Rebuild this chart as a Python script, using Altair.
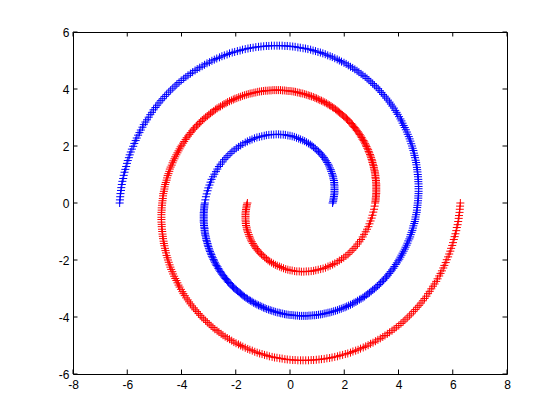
import altair as alt
import pandas as pd

# Blue spiral (inner end near (1.57, 0), outer end at (-6.28, 0))
BLUE_X = [
    1.57, 1.59, 1.60, 1.61, 1.62, 1.63, 1.64, 1.64, 1.64, 1.64, 1.64, 1.63, 1.63, 1.62, 1.60,
    1.59, 1.57, 1.55, 1.52, 1.50, 1.47, 1.44, 1.41, 1.37, 1.33, 1.29, 1.25, 1.20, 1.15, 1.10,
    1.05, 0.99, 0.93, 0.87, 0.81, 0.75, 0.68, 0.61, 0.54, 0.47, 0.39, 0.32, 0.24, 0.16, 0.08,
    0.00, -0.08, -0.17, -0.25, -0.34, -0.42, -0.51, -0.60, -0.69, -0.78, -0.87, -0.95, -1.04, -1.13, -1.22,
    -1.31, -1.40, -1.48, -1.57, -1.65, -1.74, -1.82, -1.90, -1.98, -2.06, -2.14, -2.21, -2.29, -2.36, -2.43,
    -2.49, -2.56, -2.62, -2.68, -2.73, -2.79, -2.84, -2.89, -2.93, -2.97, -3.01, -3.04, -3.07, -3.10, -3.12,
    -3.14, -3.16, -3.17, -3.18, -3.18, -3.18, -3.18, -3.17, -3.15, -3.14, -3.12, -3.09, -3.06, -3.03, -2.99,
    -2.95, -2.90, -2.85, -2.80, -2.74, -2.67, -2.61, -2.54, -2.46, -2.38, -2.30, -2.21, -2.12, -2.03, -1.93,
    -1.83, -1.73, -1.62, -1.51, -1.40, -1.28, -1.16, -1.04, -0.92, -0.79, -0.67, -0.54, -0.40, -0.27, -0.14,
    0.00, 0.14, 0.28, 0.42, 0.56, 0.70, 0.84, 0.98, 1.12, 1.26, 1.40, 1.54, 1.68, 1.82, 1.96,
    2.09, 2.23, 2.36, 2.49, 2.62, 2.75, 2.87, 2.99, 3.11, 3.23, 3.34, 3.45, 3.56, 3.66, 3.76,
    3.85, 3.94, 4.03, 4.11, 4.19, 4.26, 4.33, 4.40, 4.45, 4.51, 4.55, 4.60, 4.63, 4.67, 4.69,
    4.71, 4.73, 4.74, 4.74, 4.74, 4.73, 4.71, 4.69, 4.66, 4.63, 4.59, 4.55, 4.50, 4.44, 4.38,
    4.31, 4.23, 4.15, 4.07, 3.97, 3.88, 3.77, 3.67, 3.55, 3.43, 3.31, 3.18, 3.05, 2.91, 2.77,
    2.62, 2.47, 2.31, 2.15, 1.99, 1.82, 1.65, 1.48, 1.30, 1.12, 0.94, 0.76, 0.57, 0.38, 0.19,
    0.00, -0.19, -0.39, -0.58, -0.78, -0.97, -1.16, -1.36, -1.55, -1.75, -1.94, -2.13, -2.32, -2.51, -2.70,
    -2.88, -3.06, -3.24, -3.42, -3.59, -3.76, -3.92, -4.09, -4.24, -4.40, -4.55, -4.69, -4.83, -4.96, -5.09,
    -5.21, -5.33, -5.44, -5.55, -5.65, -5.74, -5.83, -5.91, -5.98, -6.04, -6.10, -6.15, -6.20, -6.23, -6.26,
    -6.28,
    # denser points along the outer turns
    -3.15, -3.16, -3.17, -3.18, -3.18, -3.18, -3.17, -3.16, -3.15, -3.13, -3.10, -3.08, -3.04, -3.01, -2.97,
    -2.92, -2.88, -2.82, -2.77, -2.71, -2.64, -2.57, -2.50, -2.42, -2.34, -2.26, -2.17, -2.08, -1.98, -1.88,
    -1.78, -1.68, -1.57, -1.46, -1.34, -1.22, -1.10, -0.98, -0.86, -0.73, -0.60, -0.47, -0.34, -0.20, -0.07,
    0.07, 0.21, 0.35, 0.49, 0.63, 0.77, 0.91, 1.05, 1.19, 1.33, 1.47, 1.61, 1.75, 1.89, 2.03,
    2.16, 2.30, 2.43, 2.56, 2.69, 2.81, 2.93, 3.05, 3.17, 3.29, 3.40, 3.51, 3.61, 3.71, 3.81,
    3.90, 3.99, 4.07, 4.15, 4.23, 4.30, 4.36, 4.43, 4.48, 4.53, 4.58, 4.62, 4.65, 4.68, 4.70,
    4.72, 4.73, 4.74, 4.74, 4.73, 4.72, 4.70, 4.68, 4.65, 4.61, 4.57, 4.52, 4.47, 4.41, 4.34,
    4.27, 4.19, 4.11, 4.02, 3.93, 3.83, 3.72, 3.61, 3.49, 3.37, 3.25, 3.11, 2.98, 2.84, 2.69,
    2.54, 2.39, 2.23, 2.07, 1.90, 1.74, 1.56, 1.39, 1.21, 1.03, 0.85, 0.66, 0.48, 0.29, 0.10,
    -0.10, -0.29, -0.48, -0.68, -0.87, -1.07, -1.26, -1.46, -1.65, -1.84, -2.04, -2.23, -2.42, -2.60, -2.79,
    -2.97, -3.15, -3.33, -3.50, -3.67, -3.84, -4.01, -4.17, -4.32, -4.47, -4.62, -4.76, -4.90, -5.03, -5.15,
    -5.27, -5.39, -5.50, -5.60, -5.69, -5.78, -5.87, -5.94, -6.01, -6.07, -6.13, -6.18, -6.22, -6.25, -6.27,
]
BLUE_Y = [
    0.00, 0.06, 0.11, 0.17, 0.23, 0.29, 0.35, 0.41, 0.47, 0.53, 0.60, 0.66, 0.72, 0.79, 0.85,
    0.92, 0.98, 1.04, 1.11, 1.17, 1.23, 1.30, 1.36, 1.42, 1.48, 1.54, 1.60, 1.65, 1.71, 1.76,
    1.81, 1.86, 1.91, 1.96, 2.01, 2.05, 2.09, 2.13, 2.17, 2.20, 2.23, 2.26, 2.29, 2.32, 2.34,
    2.36, 2.37, 2.39, 2.40, 2.40, 2.41, 2.41, 2.40, 2.40, 2.39, 2.38, 2.36, 2.34, 2.32, 2.30,
    2.27, 2.23, 2.20, 2.16, 2.12, 2.07, 2.02, 1.97, 1.92, 1.86, 1.80, 1.73, 1.66, 1.59, 1.52,
    1.44, 1.36, 1.28, 1.19, 1.10, 1.01, 0.92, 0.83, 0.73, 0.63, 0.53, 0.43, 0.32, 0.22, 0.11,
    0.00, -0.11, -0.22, -0.33, -0.45, -0.56, -0.67, -0.79, -0.90, -1.02, -1.13, -1.25, -1.36, -1.48, -1.59,
    -1.70, -1.81, -1.92, -2.03, -2.14, -2.24, -2.35, -2.45, -2.55, -2.65, -2.74, -2.83, -2.92, -3.01, -3.09,
    -3.17, -3.25, -3.33, -3.40, -3.46, -3.53, -3.59, -3.64, -3.69, -3.74, -3.78, -3.82, -3.85, -3.88, -3.91,
    -3.93, -3.94, -3.95, -3.96, -3.96, -3.95, -3.94, -3.93, -3.91, -3.88, -3.85, -3.82, -3.78, -3.73, -3.68,
    -3.63, -3.57, -3.50, -3.43, -3.36, -3.28, -3.19, -3.10, -3.01, -2.91, -2.80, -2.70, -2.59, -2.47, -2.35,
    -2.23, -2.10, -1.97, -1.83, -1.69, -1.55, -1.41, -1.26, -1.11, -0.96, -0.80, -0.65, -0.49, -0.33, -0.16,
    0.00, 0.17, 0.33, 0.50, 0.67, 0.83, 1.00, 1.17, 1.34, 1.50, 1.67, 1.84, 2.00, 2.17, 2.33,
    2.49, 2.65, 2.80, 2.95, 3.11, 3.25, 3.40, 3.54, 3.68, 3.81, 3.94, 4.07, 4.19, 4.31, 4.43,
    4.53, 4.64, 4.74, 4.83, 4.92, 5.00, 5.08, 5.15, 5.22, 5.28, 5.33, 5.38, 5.42, 5.45, 5.48,
    5.50, 5.51, 5.52, 5.52, 5.51, 5.50, 5.48, 5.45, 5.42, 5.38, 5.33, 5.28, 5.21, 5.15, 5.07,
    4.99, 4.90, 4.80, 4.70, 4.59, 4.48, 4.36, 4.23, 4.10, 3.96, 3.81, 3.66, 3.51, 3.35, 3.18,
    3.01, 2.84, 2.66, 2.47, 2.28, 2.09, 1.89, 1.69, 1.49, 1.28, 1.08, 0.86, 0.65, 0.44, 0.22,
    0.00,
    # denser points along the outer turns
    -0.06, -0.17, -0.28, -0.39, -0.50, -0.62, -0.73, -0.85, -0.96, -1.08, -1.19, -1.31, -1.42, -1.53, -1.65,
    -1.76, -1.87, -1.98, -2.08, -2.19, -2.30, -2.40, -2.50, -2.60, -2.69, -2.79, -2.88, -2.97, -3.05, -3.13,
    -3.21, -3.29, -3.36, -3.43, -3.50, -3.56, -3.61, -3.67, -3.72, -3.76, -3.80, -3.84, -3.87, -3.90, -3.92,
    -3.93, -3.95, -3.96, -3.96, -3.96, -3.95, -3.94, -3.92, -3.90, -3.87, -3.84, -3.80, -3.76, -3.71, -3.66,
    -3.60, -3.54, -3.47, -3.39, -3.32, -3.23, -3.15, -3.05, -2.96, -2.86, -2.75, -2.64, -2.53, -2.41, -2.29,
    -2.16, -2.03, -1.90, -1.76, -1.62, -1.48, -1.33, -1.19, -1.03, -0.88, -0.72, -0.57, -0.41, -0.25, -0.08,
    0.08, 0.25, 0.41, 0.58, 0.75, 0.92, 1.09, 1.25, 1.42, 1.59, 1.75, 1.92, 2.08, 2.25, 2.41,
    2.57, 2.72, 2.88, 3.03, 3.18, 3.33, 3.47, 3.61, 3.75, 3.88, 4.01, 4.13, 4.25, 4.37, 4.48,
    4.59, 4.69, 4.78, 4.88, 4.96, 5.04, 5.12, 5.18, 5.25, 5.30, 5.35, 5.40, 5.43, 5.46, 5.49,
    5.51, 5.52, 5.52, 5.52, 5.51, 5.49, 5.47, 5.44, 5.40, 5.35, 5.30, 5.25, 5.18, 5.11, 5.03,
    4.94, 4.85, 4.75, 4.65, 4.54, 4.42, 4.30, 4.17, 4.03, 3.89, 3.74, 3.59, 3.43, 3.27, 3.10,
    2.92, 2.75, 2.56, 2.38, 2.19, 1.99, 1.79, 1.59, 1.39, 1.18, 0.97, 0.76, 0.54, 0.33, 0.11,
]

# Red spiral (inner end near (-1.57, 0), outer end at (6.28, 0))
RED_X = [
    -1.57, -1.59, -1.60, -1.61, -1.62, -1.63, -1.64, -1.64, -1.64, -1.64, -1.64, -1.63, -1.63, -1.62, -1.60,
    -1.59, -1.57, -1.55, -1.52, -1.50, -1.47, -1.44, -1.41, -1.37, -1.33, -1.29, -1.25, -1.20, -1.15, -1.10,
    -1.05, -0.99, -0.93, -0.87, -0.81, -0.75, -0.68, -0.61, -0.54, -0.47, -0.39, -0.32, -0.24, -0.16, -0.08,
    0.00, 0.08, 0.17, 0.25, 0.34, 0.42, 0.51, 0.60, 0.69, 0.78, 0.87, 0.95, 1.04, 1.13, 1.22,
    1.31, 1.40, 1.48, 1.57, 1.65, 1.74, 1.82, 1.90, 1.98, 2.06, 2.14, 2.21, 2.29, 2.36, 2.43,
    2.49, 2.56, 2.62, 2.68, 2.73, 2.79, 2.84, 2.89, 2.93, 2.97, 3.01, 3.04, 3.07, 3.10, 3.12,
    3.14, 3.16, 3.17, 3.18, 3.18, 3.18, 3.18, 3.17, 3.15, 3.14, 3.12, 3.09, 3.06, 3.03, 2.99,
    2.95, 2.90, 2.85, 2.80, 2.74, 2.67, 2.61, 2.54, 2.46, 2.38, 2.30, 2.21, 2.12, 2.03, 1.93,
    1.83, 1.73, 1.62, 1.51, 1.40, 1.28, 1.16, 1.04, 0.92, 0.79, 0.67, 0.54, 0.40, 0.27, 0.14,
    0.00, -0.14, -0.28, -0.42, -0.56, -0.70, -0.84, -0.98, -1.12, -1.26, -1.40, -1.54, -1.68, -1.82, -1.96,
    -2.09, -2.23, -2.36, -2.49, -2.62, -2.75, -2.87, -2.99, -3.11, -3.23, -3.34, -3.45, -3.56, -3.66, -3.76,
    -3.85, -3.94, -4.03, -4.11, -4.19, -4.26, -4.33, -4.40, -4.45, -4.51, -4.55, -4.60, -4.63, -4.67, -4.69,
    -4.71, -4.73, -4.74, -4.74, -4.74, -4.73, -4.71, -4.69, -4.66, -4.63, -4.59, -4.55, -4.50, -4.44, -4.38,
    -4.31, -4.23, -4.15, -4.07, -3.97, -3.88, -3.77, -3.67, -3.55, -3.43, -3.31, -3.18, -3.05, -2.91, -2.77,
    -2.62, -2.47, -2.31, -2.15, -1.99, -1.82, -1.65, -1.48, -1.30, -1.12, -0.94, -0.76, -0.57, -0.38, -0.19,
    0.00, 0.19, 0.39, 0.58, 0.78, 0.97, 1.16, 1.36, 1.55, 1.75, 1.94, 2.13, 2.32, 2.51, 2.70,
    2.88, 3.06, 3.24, 3.42, 3.59, 3.76, 3.92, 4.09, 4.24, 4.40, 4.55, 4.69, 4.83, 4.96, 5.09,
    5.21, 5.33, 5.44, 5.55, 5.65, 5.74, 5.83, 5.91, 5.98, 6.04, 6.10, 6.15, 6.20, 6.23, 6.26,
    6.28,
    # denser points along the outer turns
    3.15, 3.16, 3.17, 3.18, 3.18, 3.18, 3.17, 3.16, 3.15, 3.13, 3.10, 3.08, 3.04, 3.01, 2.97,
    2.92, 2.88, 2.82, 2.77, 2.71, 2.64, 2.57, 2.50, 2.42, 2.34, 2.26, 2.17, 2.08, 1.98, 1.88,
    1.78, 1.68, 1.57, 1.46, 1.34, 1.22, 1.10, 0.98, 0.86, 0.73, 0.60, 0.47, 0.34, 0.20, 0.07,
    -0.07, -0.21, -0.35, -0.49, -0.63, -0.77, -0.91, -1.05, -1.19, -1.33, -1.47, -1.61, -1.75, -1.89, -2.03,
    -2.16, -2.30, -2.43, -2.56, -2.69, -2.81, -2.93, -3.05, -3.17, -3.29, -3.40, -3.51, -3.61, -3.71, -3.81,
    -3.90, -3.99, -4.07, -4.15, -4.23, -4.30, -4.36, -4.43, -4.48, -4.53, -4.58, -4.62, -4.65, -4.68, -4.70,
    -4.72, -4.73, -4.74, -4.74, -4.73, -4.72, -4.70, -4.68, -4.65, -4.61, -4.57, -4.52, -4.47, -4.41, -4.34,
    -4.27, -4.19, -4.11, -4.02, -3.93, -3.83, -3.72, -3.61, -3.49, -3.37, -3.25, -3.11, -2.98, -2.84, -2.69,
    -2.54, -2.39, -2.23, -2.07, -1.90, -1.74, -1.56, -1.39, -1.21, -1.03, -0.85, -0.66, -0.48, -0.29, -0.10,
    0.10, 0.29, 0.48, 0.68, 0.87, 1.07, 1.26, 1.46, 1.65, 1.84, 2.04, 2.23, 2.42, 2.60, 2.79,
    2.97, 3.15, 3.33, 3.50, 3.67, 3.84, 4.01, 4.17, 4.32, 4.47, 4.62, 4.76, 4.90, 5.03, 5.15,
    5.27, 5.39, 5.50, 5.60, 5.69, 5.78, 5.87, 5.94, 6.01, 6.07, 6.13, 6.18, 6.22, 6.25, 6.27,
]
RED_Y = [
    0.00, -0.06, -0.11, -0.17, -0.23, -0.29, -0.35, -0.41, -0.47, -0.53, -0.60, -0.66, -0.72, -0.79, -0.85,
    -0.92, -0.98, -1.04, -1.11, -1.17, -1.23, -1.30, -1.36, -1.42, -1.48, -1.54, -1.60, -1.65, -1.71, -1.76,
    -1.81, -1.86, -1.91, -1.96, -2.01, -2.05, -2.09, -2.13, -2.17, -2.20, -2.23, -2.26, -2.29, -2.32, -2.34,
    -2.36, -2.37, -2.39, -2.40, -2.40, -2.41, -2.41, -2.40, -2.40, -2.39, -2.38, -2.36, -2.34, -2.32, -2.30,
    -2.27, -2.23, -2.20, -2.16, -2.12, -2.07, -2.02, -1.97, -1.92, -1.86, -1.80, -1.73, -1.66, -1.59, -1.52,
    -1.44, -1.36, -1.28, -1.19, -1.10, -1.01, -0.92, -0.83, -0.73, -0.63, -0.53, -0.43, -0.32, -0.22, -0.11,
    0.00, 0.11, 0.22, 0.33, 0.45, 0.56, 0.67, 0.79, 0.90, 1.02, 1.13, 1.25, 1.36, 1.48, 1.59,
    1.70, 1.81, 1.92, 2.03, 2.14, 2.24, 2.35, 2.45, 2.55, 2.65, 2.74, 2.83, 2.92, 3.01, 3.09,
    3.17, 3.25, 3.33, 3.40, 3.46, 3.53, 3.59, 3.64, 3.69, 3.74, 3.78, 3.82, 3.85, 3.88, 3.91,
    3.93, 3.94, 3.95, 3.96, 3.96, 3.95, 3.94, 3.93, 3.91, 3.88, 3.85, 3.82, 3.78, 3.73, 3.68,
    3.63, 3.57, 3.50, 3.43, 3.36, 3.28, 3.19, 3.10, 3.01, 2.91, 2.80, 2.70, 2.59, 2.47, 2.35,
    2.23, 2.10, 1.97, 1.83, 1.69, 1.55, 1.41, 1.26, 1.11, 0.96, 0.80, 0.65, 0.49, 0.33, 0.16,
    0.00, -0.17, -0.33, -0.50, -0.67, -0.83, -1.00, -1.17, -1.34, -1.50, -1.67, -1.84, -2.00, -2.17, -2.33,
    -2.49, -2.65, -2.80, -2.95, -3.11, -3.25, -3.40, -3.54, -3.68, -3.81, -3.94, -4.07, -4.19, -4.31, -4.43,
    -4.53, -4.64, -4.74, -4.83, -4.92, -5.00, -5.08, -5.15, -5.22, -5.28, -5.33, -5.38, -5.42, -5.45, -5.48,
    -5.50, -5.51, -5.52, -5.52, -5.51, -5.50, -5.48, -5.45, -5.42, -5.38, -5.33, -5.28, -5.21, -5.15, -5.07,
    -4.99, -4.90, -4.80, -4.70, -4.59, -4.48, -4.36, -4.23, -4.10, -3.96, -3.81, -3.66, -3.51, -3.35, -3.18,
    -3.01, -2.84, -2.66, -2.47, -2.28, -2.09, -1.89, -1.69, -1.49, -1.28, -1.08, -0.86, -0.65, -0.44, -0.22,
    0.00,
    # denser points along the outer turns
    0.06, 0.17, 0.28, 0.39, 0.50, 0.62, 0.73, 0.85, 0.96, 1.08, 1.19, 1.31, 1.42, 1.53, 1.65,
    1.76, 1.87, 1.98, 2.08, 2.19, 2.30, 2.40, 2.50, 2.60, 2.69, 2.79, 2.88, 2.97, 3.05, 3.13,
    3.21, 3.29, 3.36, 3.43, 3.50, 3.56, 3.61, 3.67, 3.72, 3.76, 3.80, 3.84, 3.87, 3.90, 3.92,
    3.93, 3.95, 3.96, 3.96, 3.96, 3.95, 3.94, 3.92, 3.90, 3.87, 3.84, 3.80, 3.76, 3.71, 3.66,
    3.60, 3.54, 3.47, 3.39, 3.32, 3.23, 3.15, 3.05, 2.96, 2.86, 2.75, 2.64, 2.53, 2.41, 2.29,
    2.16, 2.03, 1.90, 1.76, 1.62, 1.48, 1.33, 1.19, 1.03, 0.88, 0.72, 0.57, 0.41, 0.25, 0.08,
    -0.08, -0.25, -0.41, -0.58, -0.75, -0.92, -1.09, -1.25, -1.42, -1.59, -1.75, -1.92, -2.08, -2.25, -2.41,
    -2.57, -2.72, -2.88, -3.03, -3.18, -3.33, -3.47, -3.61, -3.75, -3.88, -4.01, -4.13, -4.25, -4.37, -4.48,
    -4.59, -4.69, -4.78, -4.88, -4.96, -5.04, -5.12, -5.18, -5.25, -5.30, -5.35, -5.40, -5.43, -5.46, -5.49,
    -5.51, -5.52, -5.52, -5.52, -5.51, -5.49, -5.47, -5.44, -5.40, -5.35, -5.30, -5.25, -5.18, -5.11, -5.03,
    -4.94, -4.85, -4.75, -4.65, -4.54, -4.42, -4.30, -4.17, -4.03, -3.89, -3.74, -3.59, -3.43, -3.27, -3.10,
    -2.92, -2.75, -2.56, -2.38, -2.19, -1.99, -1.79, -1.59, -1.39, -1.18, -0.97, -0.76, -0.54, -0.33, -0.11,
]

X_TICKS = [-8, -6, -4, -2, 0, 2, 4, 6, 8]
Y_TICKS = [-6, -4, -2, 0, 2, 4, 6]
X_LIMITS = [-8, 8]
Y_LIMITS = [-6, 6]

FONT = "Liberation Sans"

df = pd.concat([
    pd.DataFrame({"x": BLUE_X, "y": BLUE_Y, "cls": "blue"}),
    pd.DataFrame({"x": RED_X, "y": RED_Y, "cls": "red"}),
], ignore_index=True)

xs = alt.Scale(domain=X_LIMITS, nice=False, zero=False)
ys = alt.Scale(domain=Y_LIMITS, nice=False, zero=False)

PLUS = "M-1,0L1,0M0,-1L0,1"

spirals = alt.Chart(df).mark_point(
    shape=PLUS, filled=False, size=64, strokeWidth=1, opacity=1
).encode(
    x=alt.X("x:Q", scale=xs, title=None,
            axis=alt.Axis(values=X_TICKS, grid=False, ticks=False, tickSize=0, domain=False,
                          labelExpr="'' + datum.value", labelFont=FONT, labelFontSize=12,
                          labelColor="black", labelPadding=5, labelFlush=False,
                          labelOverlap=False)),
    y=alt.Y("y:Q", scale=ys, title=None,
            axis=alt.Axis(values=Y_TICKS, grid=False, ticks=False, tickSize=0, domain=False,
                          labelExpr="'' + datum.value", labelFont=FONT, labelFontSize=12,
                          labelColor="black", labelPadding=4, labelFlush=False,
                          labelOverlap=False)),
    color=alt.Color("cls:N", scale=alt.Scale(domain=["blue", "red"], range=["#0000ff", "#ff0000"]),
                    legend=None),
)

xt = pd.DataFrame({"t": X_TICKS})
yt = pd.DataFrame({"t": Y_TICKS})
TICK = dict(filled=False, size=81, strokeWidth=1, color="black", opacity=1)

bottom_ticks = alt.Chart(xt).mark_point(shape="M0,0L0,-1", **TICK).encode(
    x=alt.X("t:Q", scale=xs, title=None), y=alt.datum(Y_LIMITS[0]))
top_ticks = alt.Chart(xt).mark_point(shape="M0,0L0,1", **TICK).encode(
    x=alt.X("t:Q", scale=xs, title=None), y=alt.datum(Y_LIMITS[1]))
left_ticks = alt.Chart(yt).mark_point(shape="M0,0L1,0", **TICK).encode(
    y=alt.Y("t:Q", scale=ys, title=None), x=alt.datum(X_LIMITS[0]))
right_ticks = alt.Chart(yt).mark_point(shape="M0,0L-1,0", **TICK).encode(
    y=alt.Y("t:Q", scale=ys, title=None), x=alt.datum(X_LIMITS[1]))

chart = alt.layer(spirals, bottom_ticks, top_ticks, left_ticks, right_ticks).properties(
    width=434, height=342,
    autosize=alt.AutoSizeParams(type="none"),
    padding={"left": 65, "top": 24, "right": 40, "bottom": 34},
    background="white",
).configure_view(stroke="black", strokeWidth=1)

chart.save("out.html", embed_options={"renderer": "svg", "actions": False})
